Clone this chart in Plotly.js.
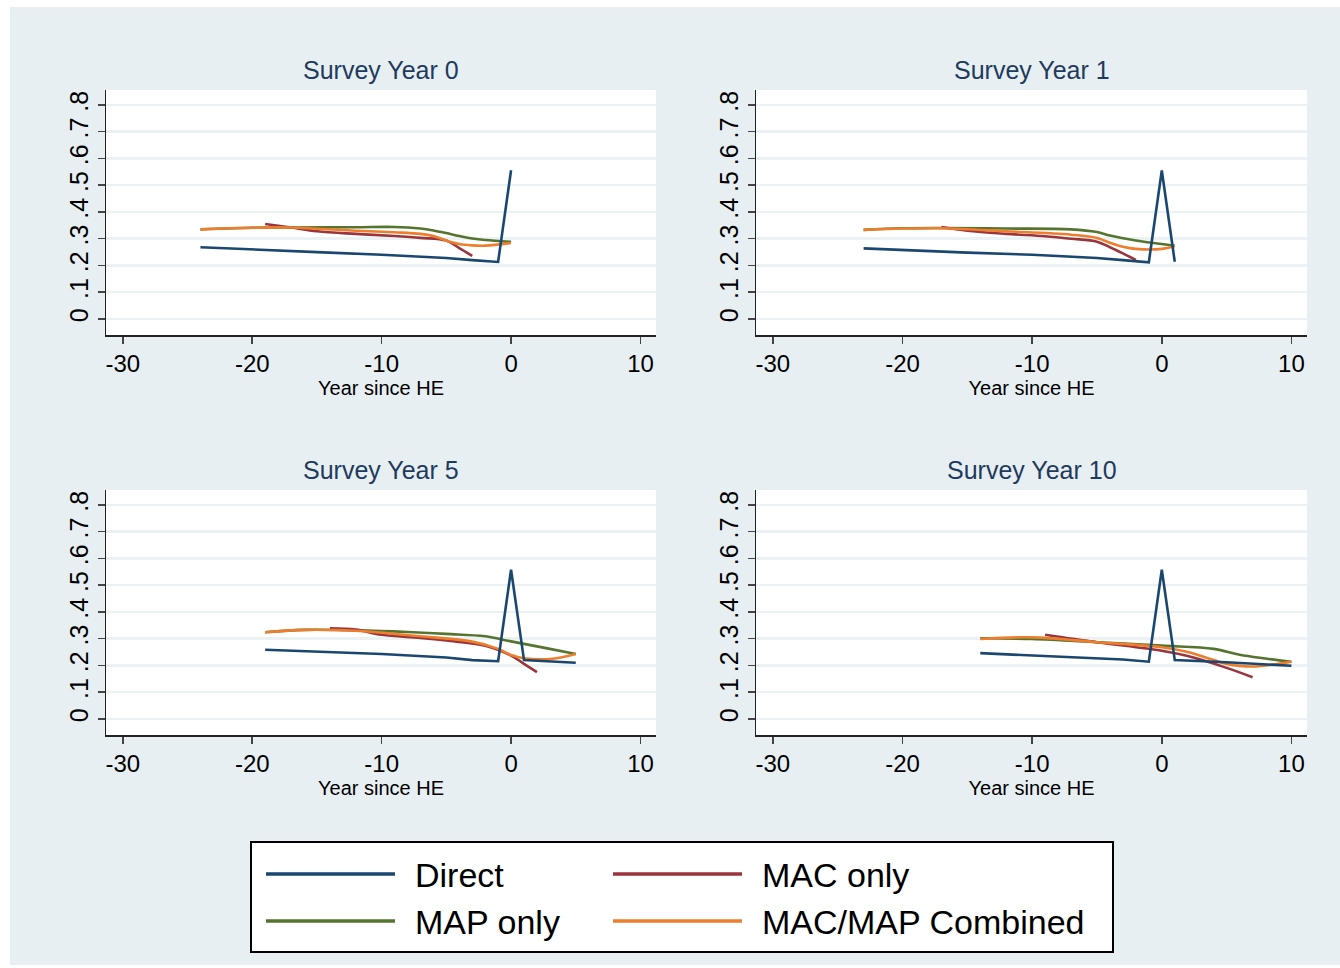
<!DOCTYPE html>
<html>
<head>
<meta charset="utf-8">
<script src="https://cdn.plot.ly/plotly-3.0.1.min.js"></script>
<style>
  html, body { margin: 0; padding: 0; background: #ffffff; }
  #chart { width: 1340px; height: 968px; }
</style>
</head>
<body>
<div id="chart"></div>
<script>
// Series names and colours
const seriesNames = ['Direct', 'MAP only', 'MAC only', 'MAC/MAP Combined'];
const seriesColors = ['#1a476f', '#55752f', '#9a353d', '#ee7d2c'];
const panelTitles = ['Survey Year 0', 'Survey Year 1', 'Survey Year 5', 'Survey Year 10'];

// Axis ticks
const xTickVals = [-30, -20, -10, 0, 10];
const xTickText = ['-30', '-20', '-10', '0', '10'];
const yTickVals = [0, 0.1, 0.2, 0.3, 0.4, 0.5, 0.6, 0.7, 0.8];
const yTickText = ['0', '.1', '.2', '.3', '.4', '.5', '.6', '.7', '.8'];

// Survey Year 0
const y0DirectX = [-24, -20, -15, -10, -5, -3, -1, 0];
const y0DirectY = [0.268, 0.259, 0.250, 0.240, 0.228, 0.220, 0.213, 0.556];
const y0MapX = [-24, -20, -17, -12, -9, -7, -6, -5, -4, -3, -2, 0];
const y0MapY = [0.335, 0.341, 0.342, 0.343, 0.344, 0.338, 0.331, 0.321, 0.310, 0.301, 0.295, 0.288];
const y0MacX = [-19, -17, -15, -12, -9, -7, -5, -4, -3];
const y0MacY = [0.355, 0.342, 0.328, 0.318, 0.310, 0.303, 0.293, 0.265, 0.236];
const y0CombX = [-24, -20, -17, -15, -12, -9, -7, -6, -5, -4, -3, -2, 0];
const y0CombY = [0.335, 0.341, 0.342, 0.337, 0.330, 0.324, 0.318, 0.310, 0.293, 0.280, 0.275, 0.274, 0.284];

// Survey Year 1
const y1DirectX = [-23, -20, -15, -10, -5, -3, -1, 0, 1];
const y1DirectY = [0.264, 0.257, 0.248, 0.240, 0.228, 0.220, 0.212, 0.555, 0.214];
const y1MapX = [-23, -20, -17, -12, -7, -5, -4, -2, 0, 1];
const y1MapY = [0.333, 0.339, 0.340, 0.338, 0.335, 0.325, 0.312, 0.293, 0.280, 0.274];
const y1MacX = [-17, -15, -12, -9, -7, -5, -4, -3, -2];
const y1MacY = [0.344, 0.330, 0.318, 0.309, 0.300, 0.289, 0.268, 0.245, 0.221];
const y1CombX = [-23, -20, -17, -12, -7, -5, -4, -3, -2, 0, 1];
const y1CombY = [0.333, 0.338, 0.339, 0.328, 0.315, 0.303, 0.285, 0.270, 0.262, 0.262, 0.273];

// Survey Year 5
const y5DirectX = [-19, -15, -10, -5, -3, -1, 0, 1, 5];
const y5DirectY = [0.259, 0.252, 0.243, 0.230, 0.220, 0.216, 0.558, 0.220, 0.210];
const y5MapX = [-19, -16, -12, -8, -5, -2, 0, 3, 5];
const y5MapY = [0.324, 0.333, 0.331, 0.325, 0.318, 0.309, 0.290, 0.262, 0.243];
const y5MacX = [-14, -12, -10, -7, -5, -2, 0, 1, 2];
const y5MacY = [0.339, 0.334, 0.315, 0.303, 0.293, 0.274, 0.237, 0.206, 0.175];
const y5CombX = [-19, -16, -12, -7, -3, -1, 0, 1, 3, 5];
const y5CombY = [0.324, 0.333, 0.330, 0.309, 0.289, 0.262, 0.239, 0.227, 0.224, 0.243];

// Survey Year 10
const y10DirectX = [-14, -10, -5, -3, -1, 0, 1, 5, 10];
const y10DirectY = [0.246, 0.238, 0.228, 0.222, 0.214, 0.558, 0.220, 0.212, 0.199];
const y10MapX = [-14, -10, -5, 0, 4, 6, 8, 10];
const y10MapY = [0.302, 0.299, 0.287, 0.274, 0.262, 0.240, 0.226, 0.214];
const y10MacX = [-9, -5, 0, 2, 5, 7];
const y10MacY = [0.315, 0.287, 0.255, 0.235, 0.191, 0.156];
const y10CombX = [-14, -10, -5, 0, 2, 4, 5, 7, 10];
const y10CombY = [0.299, 0.305, 0.287, 0.268, 0.250, 0.220, 0.206, 0.196, 0.214];

const panels = [
  [[y0DirectX, y0DirectY], [y0MapX, y0MapY], [y0MacX, y0MacY], [y0CombX, y0CombY]],
  [[y1DirectX, y1DirectY], [y1MapX, y1MapY], [y1MacX, y1MacY], [y1CombX, y1CombY]],
  [[y5DirectX, y5DirectY], [y5MapX, y5MapY], [y5MacX, y5MacY], [y5CombX, y5CombY]],
  [[y10DirectX, y10DirectY], [y10MapX, y10MapY], [y10MacX, y10MacY], [y10CombX, y10CombY]]
];

const W = 1340, H = 968;
const px = v => v / W;
const py = v => 1 - v / H;

// Subplot frames in pixels: [left, right, top, bottom]
const frames = [
  [106, 656, 90, 335],
  [756, 1307, 90, 335],
  [106, 656, 490, 735],
  [756, 1307, 490, 735]
];

const FONT = 'Liberation Sans, Arial, Helvetica, sans-serif';
const traces = [];
// Draw MAP, MAC, Combined first, Direct on top
const drawOrder = [1, 2, 3, 0];
panels.forEach((panel, p) => {
  const ax = p === 0 ? '' : String(p + 1);
  drawOrder.forEach(s => {
    traces.push({
      type: 'scatter',
      mode: 'lines',
      x: panel[s][0],
      y: panel[s][1],
      name: seriesNames[s],
      showlegend: false,
      xaxis: 'x' + ax,
      yaxis: 'y' + ax,
      line: {
        color: seriesColors[s],
        width: 2.6,
        shape: s === 0 ? 'linear' : 'spline',
        smoothing: 1
      },
      hoverinfo: 'x+y+name'
    });
  });
});

const layout = {
  width: W,
  height: H,
  margin: { l: 0, r: 0, t: 0, b: 0 },
  paper_bgcolor: '#e8eff2',
  plot_bgcolor: '#ffffff',
  font: { family: FONT, color: '#000000' },
  showlegend: false,
  shapes: [],
  annotations: []
};

// White edges around the graph region
layout.shapes.push(
  { type: 'rect', xref: 'paper', yref: 'paper', x0: 0, x1: 1, y0: py(7), y1: 1, fillcolor: '#ffffff', line: { width: 0 }, layer: 'below' },
  { type: 'rect', xref: 'paper', yref: 'paper', x0: 0, x1: px(10), y0: 0, y1: 1, fillcolor: '#ffffff', line: { width: 0 }, layer: 'below' },
  { type: 'rect', xref: 'paper', yref: 'paper', x0: 0, x1: 1, y0: 0, y1: py(965), fillcolor: '#ffffff', line: { width: 0 }, layer: 'below' }
);

frames.forEach((f, p) => {
  const ax = p === 0 ? '' : String(p + 1);
  layout['xaxis' + ax] = {
    domain: [px(f[0]), px(f[1])],
    anchor: 'y' + ax,
    range: [-31.3, 11.2],
    tickvals: xTickVals,
    ticktext: xTickText,
    ticks: 'outside',
    ticklen: 7,
    tickwidth: 1.5,
    tickcolor: '#444444',
    showline: true,
    linecolor: '#222222',
    linewidth: 1.5,
    showgrid: false,
    zeroline: false,
    tickfont: { family: FONT, size: 24, color: '#000000' },
    title: { text: 'Year since HE', font: { family: FONT, size: 20, color: '#000000' }, standoff: 1 }
  };
  layout['yaxis' + ax] = {
    domain: [py(f[3]), py(f[2])],
    anchor: 'x' + ax,
    range: [-0.06, 0.856],
    tickvals: yTickVals,
    ticktext: yTickText,
    tickangle: -90,
    ticks: 'outside',
    ticklen: 7,
    tickwidth: 1.5,
    tickcolor: '#444444',
    showline: true,
    linecolor: '#222222',
    linewidth: 1.5,
    showgrid: true,
    gridcolor: '#eaf2f3',
    gridwidth: 2.5,
    zeroline: false,
    tickfont: { family: FONT, size: 25, color: '#000000' }
  };
  layout.annotations.push({
    xref: 'paper', yref: 'paper',
    x: px((f[0] + f[1]) / 2), y: py(f[2] - 20),
    xanchor: 'center', yanchor: 'middle',
    text: panelTitles[p],
    showarrow: false,
    font: { family: FONT, size: 25, color: '#1e3a5c' }
  });
});

// Legend box
layout.shapes.push({
  type: 'rect', xref: 'paper', yref: 'paper',
  x0: px(251), x1: px(1113), y0: py(952), y1: py(842),
  fillcolor: '#ffffff', line: { color: '#000000', width: 2 }
});
const legendSlots = [
  { s: 0, x: 266, y: 874 },
  { s: 2, x: 613, y: 874 },
  { s: 1, x: 266, y: 921 },
  { s: 3, x: 613, y: 921 }
];
legendSlots.forEach(slot => {
  layout.shapes.push({
    type: 'line', xref: 'paper', yref: 'paper',
    x0: px(slot.x), x1: px(slot.x + 129), y0: py(slot.y), y1: py(slot.y),
    line: { color: seriesColors[slot.s], width: 3.5 }
  });
  layout.annotations.push({
    xref: 'paper', yref: 'paper',
    x: px(slot.x + 147), y: py(slot.y + 1),
    xanchor: 'left', yanchor: 'middle',
    text: seriesNames[slot.s],
    showarrow: false,
    font: { family: FONT, size: 34, color: '#000000' }
  });
});

Plotly.newPlot('chart', traces, layout, { displayModeBar: false, staticPlot: true });
</script>
</body>
</html>
